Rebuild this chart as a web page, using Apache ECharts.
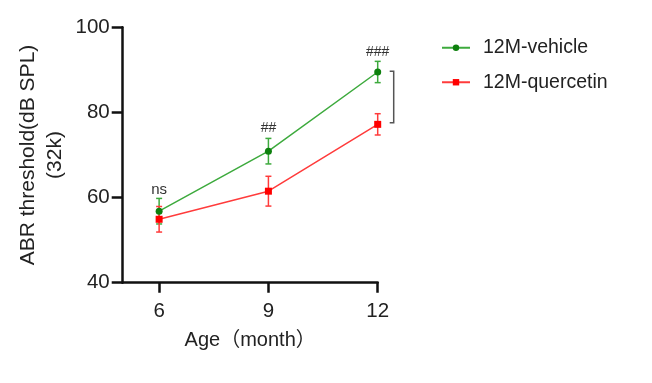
<!DOCTYPE html>
<html><head><meta charset="utf-8">
<script src="https://cdn.jsdelivr.net/npm/echarts@6/dist/echarts.min.js"></script>
<style>html,body{margin:0;padding:0;background:#fff}#c{width:652px;height:383px}</style>
</head><body><div id="c"></div>
<script>
const ages = [6, 9, 12];
const vehicleMean = [56.8, 70.9, 89.5];
const vehicleErr = [3, 3, 2.5];
const quercetinMean = [54.9, 61.5, 77.2];
const quercetinErr = [3, 3.5, 2.5];
const sigLabels = ['ns', '##', '###'];
const sigY = [61.8, 76.4, 94.2];
const yTicks = [40, 60, 80, 100];
const bracket = [12, 89.7, 77.6];

const FONT = '"Liberation Sans", Arial, "Noto Sans CJK SC", sans-serif';
const GREEN = '#3daa3d', GREEN_M = '#0e800e';
const RED = '#ff3b3b', RED_M = '#ff0000';

function errData(mean, err){ return ages.map((a,i)=>[a, mean[i]-err[i], mean[i]+err[i]]); }
function errSeries(mean, err, color){
  return {type:'custom', silent:true, z:3, data: errData(mean, err),
    renderItem(params, api){
      const x = api.value(0);
      const lo = api.coord([x, api.value(1)]);
      const hi = api.coord([x, api.value(2)]);
      const w = 3;
      const st = {stroke: color, lineWidth: 1.5};
      return {type:'group', children:[
        {type:'line', shape:{x1:lo[0],y1:lo[1],x2:hi[0],y2:hi[1]}, style:st},
        {type:'line', shape:{x1:lo[0]-w,y1:lo[1],x2:lo[0]+w,y2:lo[1]}, style:st},
        {type:'line', shape:{x1:hi[0]-w,y1:hi[1],x2:hi[0]+w,y2:hi[1]}, style:st}
      ]};
    }};
}

const chart = echarts.init(document.getElementById('c'), null, {renderer:'canvas'});
chart.setOption({
  animation:false,
  backgroundColor:'#fff',
  textStyle:{fontFamily:FONT},
  grid:{left:122.7, right:274.3, top:27.3, bottom:100.3, containLabel:false},
  legend:{
    left:436, top:33, orient:'vertical', itemGap:15, itemWidth:28, itemHeight:8,
    textStyle:{fontFamily:FONT, fontSize:19.5, color:'#222', padding:[0,0,0,8]},
    data:['12M-vehicle','12M-quercetin']
  },
  xAxis:{
    type:'value', min:5, max:12,
    name:'Age（month）', nameLocation:'middle', nameGap:48,
    nameTextStyle:{fontFamily:FONT, fontSize:20, color:'#222'},
    axisLine:{show:true, lineStyle:{color:'#111', width:2.5}},
    axisTick:{show:true, customValues:ages, length:10, lineStyle:{color:'#111', width:2.5}},
    axisLabel:{customValues:ages, fontSize:20.5, color:'#222', margin:18, fontFamily:FONT},
    splitLine:{show:false}
  },
  yAxis:{
    type:'value', min:40, max:100, interval:20,
    name:'ABR threshold(dB SPL)\n(32k)', nameLocation:'middle', nameGap:54, nameRotate:90,
    nameTextStyle:{fontFamily:FONT, fontSize:21, color:'#222', lineHeight:27, align:'center'},
    axisLine:{show:true, lineStyle:{color:'#111', width:2.5}},
    axisTick:{show:true, length:11, lineStyle:{color:'#111', width:2.5}},
    axisLabel:{fontSize:20.5, color:'#222', margin:13, fontFamily:FONT},
    splitLine:{show:false}
  },
  series:[
    {name:'12M-vehicle', type:'line', z:4, data: ages.map((a,i)=>[a, vehicleMean[i]]),
      symbol:'circle', symbolSize:7, lineStyle:{color:GREEN, width:1.5},
      itemStyle:{color:GREEN_M}},
    {name:'12M-quercetin', type:'line', z:4, data: ages.map((a,i)=>[a, quercetinMean[i]]),
      symbol:'rect', symbolSize:7, lineStyle:{color:RED, width:1.5},
      itemStyle:{color:RED_M}},
    errSeries(vehicleMean, vehicleErr, GREEN),
    errSeries(quercetinMean, quercetinErr, RED),
    {type:'custom', silent:true, z:5, data: ages.map((a,i)=>[a, sigY[i], sigLabels[i]]),
      renderItem(params, api){
        const p = api.coord([api.value(0), api.value(1)]);
        const t = sigLabels[params.dataIndex];
        return {type:'text', x:p[0], y:p[1], style:{text:t, fill:'#333',
          font: (t==='ns'?'15px ':'14px ') + FONT, textAlign:'center', textVerticalAlign:'middle'}};
      }},
    {type:'custom', silent:true, z:5, data:[bracket],
      renderItem(params, api){
        const a = api.coord([api.value(0), api.value(1)]);
        const b = api.coord([api.value(0), api.value(2)]);
        const x = a[0] + 16;
        const st = {stroke:'#555', lineWidth:1.5, fill:null};
        return {type:'polyline', shape:{points:[[x-4,a[1]],[x,a[1]],[x,b[1]],[x-4,b[1]]]}, style:st};
      }}
  ]
});
</script></body></html>
